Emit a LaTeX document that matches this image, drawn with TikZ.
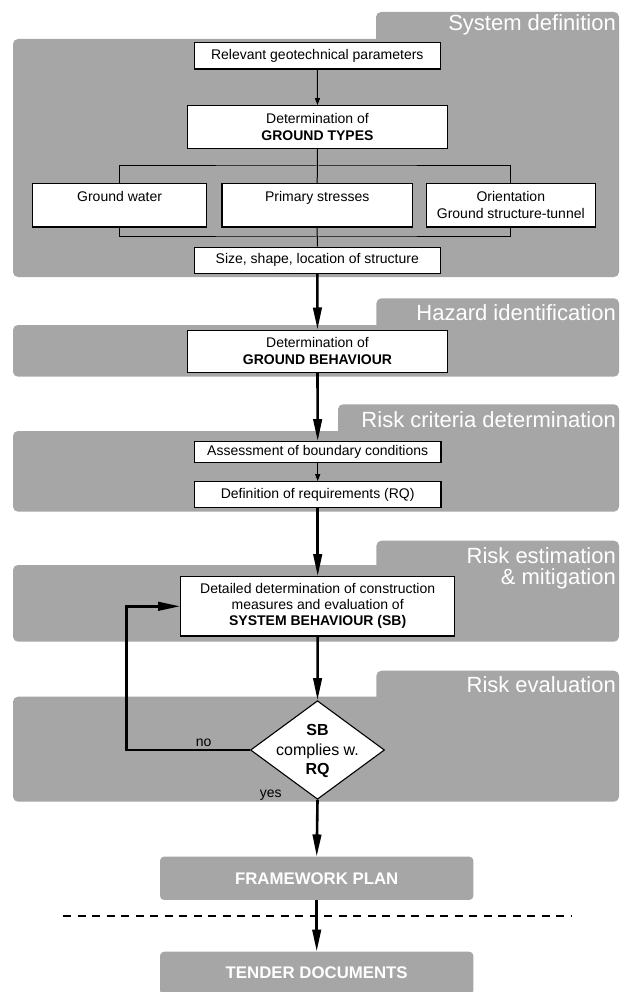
\documentclass[tikz,border=0pt]{standalone}
\usepackage{fontspec}
\setmainfont{Liberation Sans}
\usetikzlibrary{arrows.meta,shapes.geometric}
\definecolor{panel}{RGB}{166,166,166}
\begin{document}
\begin{tikzpicture}[x=1pt,y=-1pt,
 box/.style={draw=black, fill=white, line width=1.1pt, inner sep=0pt, align=center, font=\fontsize{14}{17}\selectfont},
 thinline/.style={line width=1pt},
 thinarr/.style={line width=1pt, -{Triangle[length=7pt,width=5pt]}},
 bigarr/.style={line width=2.6pt, -{Triangle[length=22pt,width=8.5pt]}},
 paneltitle/.style={anchor=east, text=white, font=\fontsize{22}{21}\selectfont, inner sep=0pt, align=right},
 greybox/.style={fill=panel, draw=none, rounded corners=4pt, inner sep=0pt, text=white, font=\bfseries\fontsize{16.8}{20}\selectfont},
 lbl/.style={inner sep=0pt, font=\fontsize{14}{17}\selectfont},
]
\useasboundingbox (0,0) rectangle (620,992);

% panels
\newcommand{\mypanel}[4]{%
  \fill[panel, rounded corners=5pt] (13,#3) rectangle (619,#4);
  \fill[panel, rounded corners=5pt] (#1,#2) rectangle (619,#3+10);
}
\mypanel{376}{12}{39}{277}
\mypanel{376.4}{298.3}{325}{376.7}
\mypanel{338}{404.3}{431}{511.7}
\mypanel{376.4}{540.7}{565}{641.7}
\mypanel{376.4}{670.7}{696.7}{801.7}

% titles
\node[paneltitle] (t1) at (616,25) {System definition};
\node[paneltitle] (t2) at (616,312.7) {Hazard identification};
\node[paneltitle] (t3) at (616,419.3) {Risk criteria determination};
\node[paneltitle, font=\fontsize{22}{21}\selectfont] (t4) at (616,568.5) {Risk estimation\\\& mitigation};
\node[paneltitle] (t5) at (616,685) {Risk evaluation};

% boxes
\node[box, minimum width=245.5pt, minimum height=26.7pt] (rel) at (317.3,55.7) {Relevant geotechnical parameters};
\node[box, minimum width=260.2pt, minimum height=42.6pt] (gt) at (317.5,127) {Determination of\\\textbf{GROUND TYPES}};
\node[box, minimum width=174.4pt, minimum height=43.7pt] (gw) at (119.6,205.2) {Ground water\\~};
\node[box, minimum width=190.4pt, minimum height=43.7pt] (ps) at (317.2,205.2) {Primary stresses\\~};
\node[box, minimum width=169.5pt, minimum height=43.7pt] (or) at (510.8,205.2) {Orientation\\Ground structure-tunnel};
\node[box, minimum width=245.5pt, minimum height=26.3pt] (size) at (317.3,260.2) {Size, shape, location of structure};
\node[box, minimum width=260.2pt, minimum height=42.3pt] (gb) at (317.5,351.2) {Determination of\\\textbf{GROUND BEHAVIOUR}};
\node[box, minimum width=246.5pt, minimum height=21pt] (ass) at (317.7,452.2) {Assessment of boundary conditions};
\node[box, minimum width=246.5pt, minimum height=25.6pt] (req) at (317.7,494.5) {Definition of requirements (RQ)};
\node[box, minimum width=274pt, minimum height=59.3pt, font=\fontsize{14}{16}\selectfont] (sb) at (317.7,606.3) {Detailed determination of construction\\measures and evaluation of\\\textbf{SYSTEM BEHAVIOUR (SB)}};
\node[diamond, draw=black, fill=white, line width=1.1pt, inner sep=0pt, minimum width=134pt, minimum height=98.6pt] (dia) at (317.5,750) {};
\node[align=center, inner sep=0pt, font=\fontsize{16}{19.5}\selectfont] (diat) at (317.5,751.2) {\textbf{SB}\\complies w.\\\textbf{RQ}};
\node[greybox, minimum width=313.3pt, minimum height=43.3pt] (fw) at (316.7,878.3) {FRAMEWORK PLAN};
\node[greybox, minimum width=313.3pt, minimum height=43pt] (td) at (316.7,973.2) {TENDER DOCUMENTS};

% connectors
\draw[thinarr] (rel.south) -- (gt.north);
\draw[thinline] (gt.south) -- (ps.north);
\coordinate (bt) at (317.5,166);
\draw[thinline] (gw.north) |- (bt) -| (or.north);
\coordinate (bb) at (317.5,237);
\draw[thinline] (gw.south) |- (bb) -| (or.south);
\draw[thinline] (ps.south) -- (size.north);
\draw[bigarr] (size.south) -- (gb.north);
\draw[bigarr] (gb.south) -- (ass.north);
\draw[thinarr] (ass.south) -- (req.north);
\draw[bigarr] (req.south) -- (sb.north);
\draw[bigarr] (sb.south) -- (dia.north);
\coordinate (fbk) at (126.5,750);
\draw[bigarr] (dia.west) -- (fbk) |- (sb.west);
\draw[bigarr] (dia.south) -- (fw.north);
\coordinate (dl) at (63,916);
\coordinate (dr) at (571.4,916);
\draw[line width=1.4pt, dash pattern=on 8pt off 6.5pt] (dl) -- (dr);
\draw[bigarr] (fw.south) -- (td.north);

\node[lbl] (no) at (203.6,742.7) {no};
\node[lbl] (yes) at (270.7,795) {yes};
\end{tikzpicture}
\end{document}
